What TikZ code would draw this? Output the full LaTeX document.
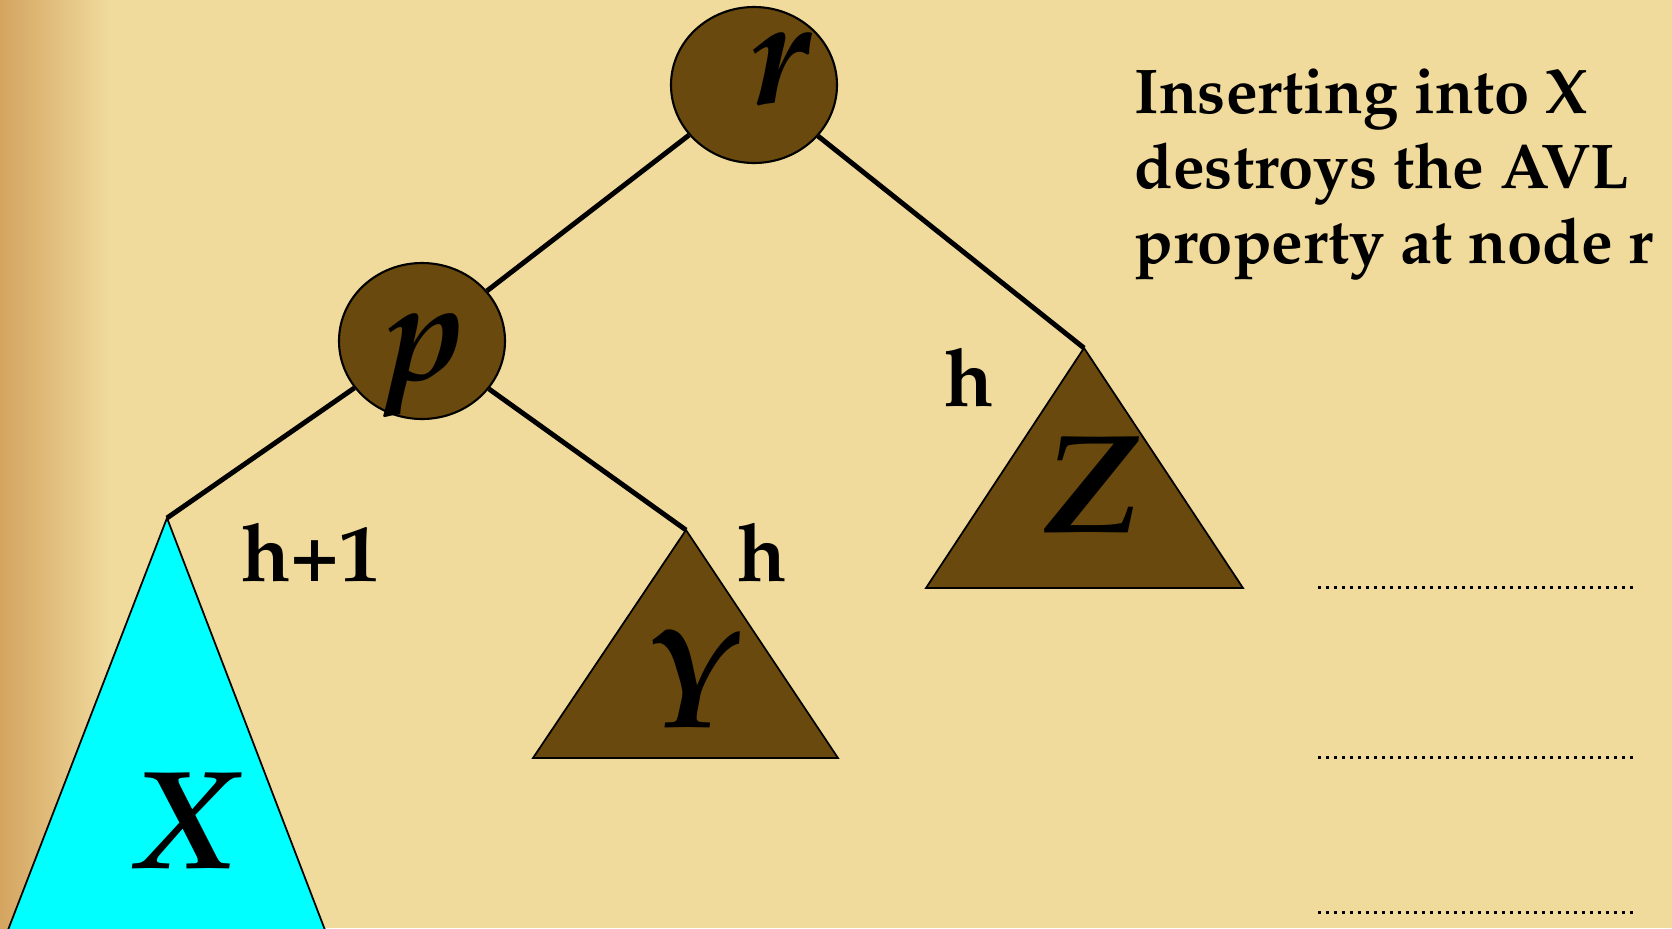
\documentclass[tikz,border=0pt]{standalone}
\usepackage[T1]{fontenc}
\usepackage{mathpazo}
\usetikzlibrary{shapes.geometric,positioning}
\definecolor{parchment}{RGB}{240, 219, 157}
\definecolor{parchmentedge}{RGB}{212, 164, 96}
\definecolor{subtree}{RGB}{106, 73, 14}
\definecolor{inserted}{RGB}{0, 255, 255}

\begin{document}
\begin{tikzpicture}[x=0.1mm, y=-0.1mm,
    treenode/.style={ellipse, draw=black, line width=0.6pt, fill=subtree,
        minimum width=16.6mm, minimum height=15.6mm, inner sep=0pt},
    letter/.style={inner sep=0pt, font=\fontsize{40}{40}\selectfont\bfseries\itshape},
    hlabel/.style={inner sep=0pt, font=\fontsize{23}{23}\selectfont\bfseries},
    branch/.style={line width=1.4pt},
    subtri/.style={draw=black, line width=0.5pt},
    blankline/.style={line width=0.3mm, dash pattern=on 0.3mm off 0.5mm}]
    \useasboundingbox (0,0) rectangle (1672,928);
    % background
    \fill[parchment] (0,0) rectangle (1672,928);
    \shade[left color=parchmentedge, right color=parchment] (0,0) rectangle (110,928);

    % subtrees
    \coordinate (xtop) at (167,518);
    \coordinate (ytop) at (686,530);
    \coordinate (ztop) at (1084,348);
    \draw[subtri, fill=inserted] (xtop) -- (8,930) -- (325,930) -- cycle;
    \draw[subtri, fill=subtree] (ytop) -- (533,758) -- (838,758) -- cycle;
    \draw[subtri, fill=subtree] (ztop) -- (926,588) -- (1243,588) -- cycle;
    \node[letter] (xname) at (184,822) {X};
    \node[letter] (yname) at (688,678) {Y};
    \node[letter] (zname) at (1091,486) {Z};

    % tree nodes
    \node[treenode] (r) at (754,85) {};
    \node[treenode] (p) at (422,341) {};
    \node[letter, font=\fontsize{43}{43}\selectfont\bfseries\itshape] (rname) at (780,70) {r};
    \node[letter] (pname) at (426,366) {p};

    \draw[branch] (r) -- (p);
    \draw[branch] (r) -- (ztop);
    \draw[branch] (p) -- (xtop);
    \draw[branch] (p) -- (ytop);

    % heights
    \node[hlabel] (hx) at (311,553) {h+1};
    \node[hlabel] (hy) at (762,553) {h};
    \node[hlabel] (hz) at (969,378) {h};

    \node[anchor=north west, inner sep=0pt, align=left,
        font=\fontsize{18}{21.2}\selectfont\bfseries] (note) at (1134,69)
        {Inserting into X\\destroys the AVL\\property at node r};
    \foreach \yy in {587,757,912}
        \draw[blankline] (1318,\yy) -- (1634,\yy);
\end{tikzpicture}
\end{document}
